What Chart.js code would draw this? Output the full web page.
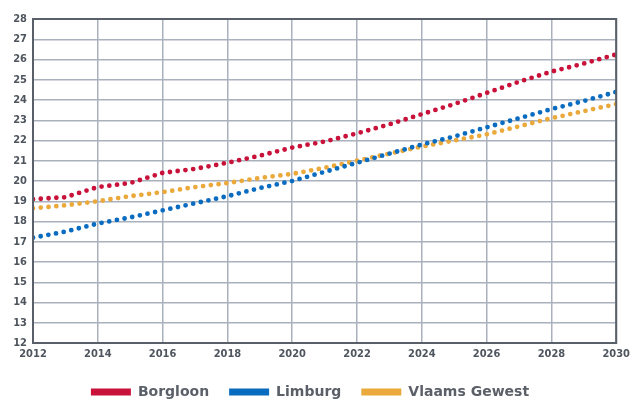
<!DOCTYPE html>
<html><head><meta charset="utf-8">
<script src="https://cdn.jsdelivr.net/npm/chart.js@4/dist/chart.umd.min.js"></script>
<style>html,body{margin:0;padding:0;background:#fff}#wrap{width:635px;height:403px}</style>
</head><body><div id="wrap"><canvas id="c" width="635" height="403"></canvas></div>
<script>
const years = [2012,2013,2014,2015,2016,2017,2018,2019,2020,2021,2022,2023,2024,2025,2026,2027,2028,2029,2030];
const borgloon = [19.1,19.2,19.7,19.9,20.4,20.6,20.9,21.25,21.65,21.95,22.35,22.8,23.3,23.8,24.35,24.9,25.4,25.8,26.25];
const limburg = [17.2,17.5,17.9,18.2,18.55,18.9,19.25,19.65,20.0,20.45,20.9,21.35,21.8,22.2,22.65,23.1,23.55,23.95,24.4];
const vlaams = [18.65,18.8,19.0,19.25,19.45,19.7,19.9,20.15,20.35,20.65,21.0,21.35,21.7,22.0,22.3,22.7,23.1,23.45,23.8];
const seriesNames = ['Borgloon','Limburg','Vlaams Gewest'];
const colors = ['#c8123a','#0a6cc0','#eaa93a'];
const yMin = 12, yMax = 28;

const pts = arr => arr.map((v,i)=>({x:years[i],y:v}));
const mk = (name,arr,col)=>({label:name,data:pts(arr),borderColor:col,backgroundColor:col,borderWidth:4.8,borderDash:[0,7.8],borderCapStyle:'round',pointRadius:0,fill:false,tension:0});

const framePlugin = {id:'frame',afterDatasetsDraw(chart){const a=chart.chartArea,c=chart.ctx;c.save();c.strokeStyle='#5a606a';c.lineWidth=2;c.strokeRect(a.left,a.top,a.right-a.left,a.bottom-a.top);c.restore();}};

new Chart(document.getElementById('c'),{
  type:'line',
  data:{datasets:[mk(seriesNames[0],borgloon,colors[0]),mk(seriesNames[1],limburg,colors[1]),mk(seriesNames[2],vlaams,colors[2])]},
  options:{
    responsive:false,animation:false,
    layout:{padding:{top:19,right:15,left:0,bottom:-6}},
    plugins:{
      tooltip:{enabled:false},
      legend:{position:'bottom',
        labels:{boxWidth:40,boxHeight:7,padding:20,color:'#5a5f68',font:{family:'DejaVu Sans',size:14,weight:'bold'},
          generateLabels(chart){return chart.data.datasets.map((d,i)=>({text:d.label,fillStyle:d.borderColor,strokeStyle:d.borderColor,lineWidth:0,lineDash:[],datasetIndex:i,fontColor:'#5a5f68'}));}}}
    },
    scales:{
      x:{type:'linear',min:2012,max:2030,
        ticks:{stepSize:2,color:'#4f555e',font:{family:'DejaVu Sans Condensed',size:11,weight:'bold'},padding:5,maxRotation:0,callback:v=>String(v)},
        grid:{color:'#a9b1bd',lineWidth:1.5,drawTicks:false},border:{display:false},
        afterFit(s){s.height=22;}},
      y:{min:yMin,max:yMax,
        ticks:{stepSize:1,color:'#4f555e',font:{family:'DejaVu Sans Condensed',size:11,weight:'bold'},padding:6},
        grid:{color:'#a9b1bd',lineWidth:1.5,drawTicks:false},border:{display:false},
        afterFit(s){s.width=33;}}
    }
  },
  plugins:[framePlugin]
});
</script></body></html>
